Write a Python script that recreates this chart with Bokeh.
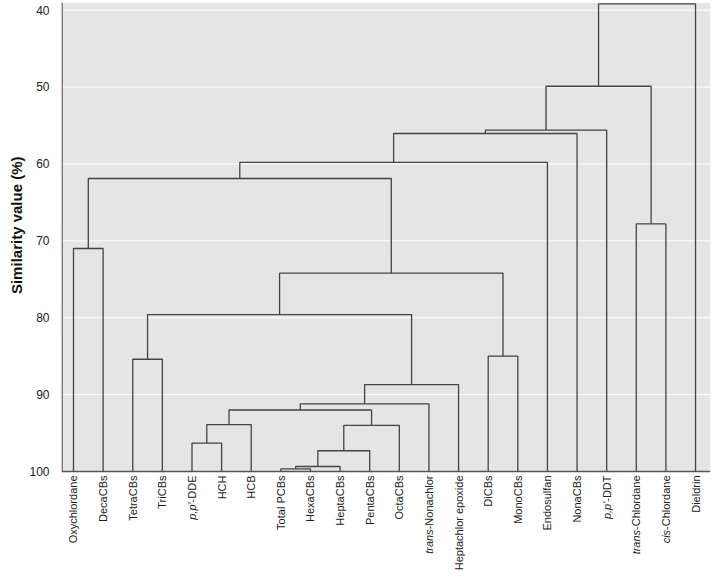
from bokeh.plotting import figure
from bokeh.models import Range1d, FixedTicker, Title
from bokeh.core.properties import value
from bokeh.embed import file_html
from bokeh.resources import INLINE
import math

# ---- data ----
leaf_italic = ["", "", "", "", "p,p′", "", "", "", "", "", "", "",
               "trans", "", "", "", "", "", "p,p′", "trans", "cis", ""]
leaf_regular = ["Oxychlordane", "DecaCBs", "TetraCBs", "TriCBs", "-DDE", "HCH", "HCB",
                "Total PCBs", "HexaCBs", "HeptaCBs", "PentaCBs", "OctaCBs", "-Nonachlor",
                "Heptachlor epoxide", "DiCBs", "MonoCBs", "Endosulfan", "NonaCBs", "-DDT",
                "-Chlordane", "-Chlordane", "Dieldrin"]

merge_left = [0, 2, 4, 24, 7, 26, 27, 28, 25, 30, 31, 23, 14, 33, 22, 36, 37, 38, 19, 39, 41]
merge_right = [1, 3, 5, 6, 8, 9, 10, 11, 29, 12, 13, 32, 15, 34, 35, 16, 17, 18, 20, 40, 21]
merge_height = [71.0, 85.4, 96.3, 93.9, 99.65, 99.35, 97.3, 94.0, 92.0, 91.2, 88.7, 79.6,
                85.0, 74.2, 61.9, 59.8, 56.05, 55.6, 67.8, 49.9, 39.2]

y_ticks = [40, 50, 60, 70, 80, 90, 100]
leaf_base = 100

# ---- layout constants ----
W, H = 712, 576
ML, MR, MT = 61, 2, 2
X0, X1 = -0.405, 21.505
Y_TOP, Y_BOT = 39.012, 113.654
PX_PER_Y = (H - MT) / (Y_BOT - Y_TOP)

# ---- build dendrogram segments ----
n = len(leaf_regular)
pos_x = {i: float(i) for i in range(n)}
pos_y = {i: float(leaf_base) for i in range(n)}
xs, ys = [], []
for k, (a, b, h) in enumerate(zip(merge_left, merge_right, merge_height)):
    xa, ya, xb, yb = pos_x[a], pos_y[a], pos_x[b], pos_y[b]
    xs.append([xa, xa, xb, xb])
    ys.append([ya, h, h, yb])
    cid = n + k
    pos_x[cid] = (xa + xb) / 2
    pos_y[cid] = h

FONT = "Liberation Sans"
FS = 11
AW = {'-': 333, 'D': 722, 'E': 667, 'T': 611, 'N': 722, 'C': 722, 'o': 556, 'n': 556,
      'a': 556, 'c': 500, 'h': 556, 'l': 222, 'r': 333, 'd': 556, 'e': 556}


def text_w(s):
    return sum(AW.get(c, 556) for c in s) * FS / 1000


p = figure(width=W, height=H, output_backend="svg", toolbar_location=None,
           x_range=Range1d(X0, X1), y_range=Range1d(Y_BOT, Y_TOP), x_axis_location=None,
           min_border_left=ML, min_border_right=MR, min_border_top=MT, min_border_bottom=0)
p.background_fill_color = "white"
p.border_fill_color = "white"
p.outline_line_color = None
p.xgrid.visible = False
p.ygrid.visible = False

p.yaxis.ticker = FixedTicker(ticks=y_ticks)
p.yaxis.major_tick_line_color = None
p.yaxis.minor_tick_line_color = None
p.yaxis.axis_line_color = None
p.yaxis.major_label_text_font = FONT
p.yaxis.major_label_text_font_size = "12px"
p.yaxis.major_label_text_color = "#222222"
p.yaxis.major_label_standoff = 6

p.add_layout(Title(text="Similarity value (%)", align="right", offset=154,
                   text_font=FONT, text_font_size="15px",
                   text_font_style="bold", text_color="#111111", standoff=4), "left")

# plot panel background and gridlines
p.quad(left=X0, right=X1, top=Y_TOP, bottom=leaf_base, fill_color="#e5e5e5", line_color=None)
p.segment(x0=[X0] * len(y_ticks), x1=[X1] * len(y_ticks), y0=y_ticks, y1=y_ticks,
          line_color="white", line_width=1)
# axis lines
p.segment(x0=[X0 + 0.02], x1=[X0 + 0.02], y0=[Y_TOP], y1=[leaf_base],
          line_color="#555555", line_width=1.3)
p.segment(x0=[X0], x1=[X1], y0=[leaf_base], y1=[leaf_base],
          line_color="#555555", line_width=1.3)

p.multi_line(xs, ys, line_color="#444444", line_width=1.3)

# leaf labels
gap = 4
p.text(x=list(range(n)), y=[leaf_base + gap / PX_PER_Y] * n, text=leaf_regular,
       angle=math.pi / 2, text_align="right", text_baseline="middle",
       text_font=value(FONT), text_font_size=value("11px"), text_color="#222222")
it_idx = [i for i in range(n) if leaf_italic[i]]
p.text(x=it_idx, y=[leaf_base + (gap + text_w(leaf_regular[i])) / PX_PER_Y for i in it_idx],
       text=[leaf_italic[i] for i in it_idx],
       angle=math.pi / 2, text_align="right", text_baseline="middle",
       text_font=value(FONT), text_font_size=value("11px"), text_font_style="italic",
       text_color="#222222")

open("out.html", "w").write(file_html(p, INLINE))
